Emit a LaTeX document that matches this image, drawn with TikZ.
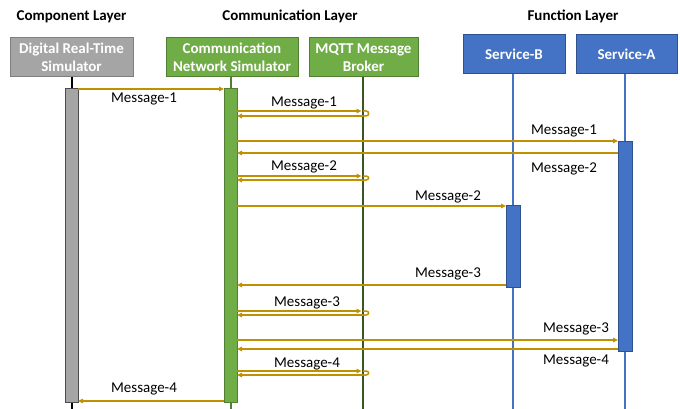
\documentclass[tikz,border=0pt]{standalone}
\usepackage{fontspec}
\setmainfont{Carlito}
\usetikzlibrary{arrows.meta}
\definecolor{gfill}{HTML}{A5A5A5}
\definecolor{gdraw}{HTML}{7F7F7F}
\definecolor{cfill}{HTML}{70AD47}
\definecolor{cdraw}{HTML}{507E32}
\definecolor{mline}{HTML}{385723}
\definecolor{bfill}{HTML}{4472C4}
\definecolor{bdraw}{HTML}{2F528F}
\definecolor{msgc}{HTML}{BF9000}
\newcommand\mqtrip[2]{%
  \draw[msg, shorten >=1.5pt] (aC.east |- 0,#1) -- (bM |- 0,#1);
  \draw[msgl] (bM |- 0,#1) -- ++(3,0) .. controls +(3.5,0) and +(3.5,0) .. ++(0,{#2-#1}) -- ++(-3,0);
  \draw[msg] (bM |- 0,#2) -- (aC.east |- 0,#2);
}
\begin{document}
\begin{tikzpicture}[x=1pt,y=-1pt,
  hdr/.style={font=\fontsize{15}{18}\selectfont\bfseries, anchor=base, inner sep=0},
  head/.style={font=\fontsize{15}{18}\selectfont\bfseries, text=white, align=center, inner sep=0, outer sep=0, line width=1pt, minimum height=39pt},
  act/.style={inner sep=0, outer sep=0, line width=0.8pt},
  life/.style={line width=2pt},
  msg/.style={draw=msgc, line width=1.5pt, -{Triangle[length=5pt,width=4.5pt]}},
  msgl/.style={draw=msgc, line width=1.5pt},
  lbl/.style={font=\fontsize{15}{18}\selectfont, anchor=base, inner sep=0}]
\useasboundingbox (0,0) rectangle (680,409);

% layer titles
\node[hdr] (t1) at (71.5,21) {Component Layer};
\node[hdr] (t2) at (290,21) {Communication Layer};
\node[hdr] (t3) at (573,21) {Function Layer};

% heads
\node[head, fill=gfill, draw=gdraw, minimum width=123pt] (hD) at (71.5,57.5) {Digital Real-Time\\Simulator};
\node[head, fill=cfill, draw=cdraw, minimum width=132pt] (hC) at (232,57.5) {Communication\\Network Simulator};
\node[head, fill=cfill, draw=cdraw, minimum width=109pt] (hM) at (363.5,57.5) {MQTT Message\\Broker};
\node[head, fill=bfill, draw=bdraw, minimum width=102pt] (hB) at (514,54.5) {Service-B};
\node[head, fill=bfill, draw=bdraw, minimum width=101pt] (hA) at (626.5,54.5) {Service-A};

% lifeline bottoms
\coordinate (bD) at (71.5,409);
\coordinate (bC) at (231,409);
\coordinate (bM) at (363,409);
\coordinate (bB) at (513,409);
\coordinate (bA) at (625,409);

\draw[life, black] (hD.south -| bD) -- (bD);
\draw[life, cdraw] (hC.south -| bC) -- (bC);
\draw[life, mline] (hM.south -| bM) -- (bM);
\draw[life, bfill] (hB.south -| bB) -- (bB);
\draw[life, bfill] (hA.south -| bA) -- (bA);

% activation boxes
\node[act, fill=gfill, draw=black!70, minimum width=13pt, minimum height=314pt] (aD) at (71.5,245) {};
\node[act, fill=cfill, draw=cdraw, minimum width=13pt, minimum height=314pt] (aC) at (230.5,245) {};
\node[act, fill=bfill, draw=bdraw, minimum width=14pt, minimum height=82pt] (aB) at (513,246) {};
\node[act, fill=bfill, draw=bdraw, minimum width=14pt, minimum height=210pt] (aA) at (625,246) {};

% messages
\draw[msg] (aD.east |- 0,89) -- (aC.west |- 0,89);
\mqtrip{111}{116}
\draw[msg] (aC.east |- 0,141) -- (aA.west |- 0,141);
\draw[msg] (aA.west |- 0,153) -- (aC.east |- 0,153);
\mqtrip{176}{180}
\draw[msg] (aC.east |- 0,206) -- (aB.west |- 0,206);
\draw[msg] (aB.west |- 0,285) -- (aC.east |- 0,285);
\mqtrip{311}{315}
\draw[msg] (aC.east |- 0,340) -- (aA.west |- 0,340);
\draw[msg] (aA.west |- 0,349) -- (aC.east |- 0,349);
\mqtrip{371}{375}
\draw[msg] (aC.west |- 0,401) -- (aD.east |- 0,401);

% labels
\node[lbl] (l1) at (144,103) {Message-1};
\node[lbl] (l2) at (304,107) {Message-1};
\node[lbl] (l3) at (564,135) {Message-1};
\node[lbl] (l4) at (564,172) {Message-2};
\node[lbl] (l5) at (304,171) {Message-2};
\node[lbl] (l6) at (448,200) {Message-2};
\node[lbl] (l7) at (448,277) {Message-3};
\node[lbl] (l8) at (307,306) {Message-3};
\node[lbl] (l9) at (576,332) {Message-3};
\node[lbl] (l10) at (576,364) {Message-4};
\node[lbl] (l11) at (307,367) {Message-4};
\node[lbl] (l12) at (144,392) {Message-4};
\end{tikzpicture}
\end{document}
